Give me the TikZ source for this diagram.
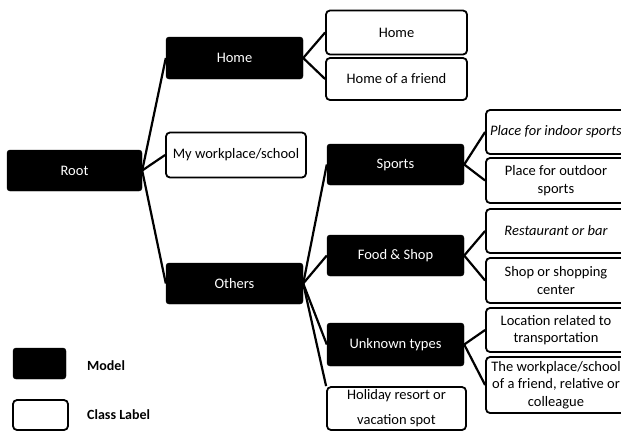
\documentclass[tikz,border=0pt]{standalone}
\usepackage{fontspec}
\setmainfont{Carlito}
\begin{document}
\begin{tikzpicture}[x=1pt,y=-1pt,
  every node/.style={font=\fontsize{14.5}{17.5}\selectfont, align=center, inner sep=0pt},
  model/.style={fill=black, draw=black, rounded corners=3pt, text=white},
  classlabel/.style={fill=white, draw=black, line width=1.8pt, rounded corners=4pt},
  conn/.style={line width=2.2pt, draw=black}]
\useasboundingbox (0,0) rectangle (621,432);
\clip (0,0) rectangle (621,432);
% level 0
\node[model, minimum width=135pt, minimum height=41pt] (root) at (74.5,170.5) {Root};
% level 1
\node[model, minimum width=137pt, minimum height=42pt] (home) at (234.5,58) {Home};
\node[classlabel, minimum width=140pt, minimum height=45pt] (work) at (236,155) {My workplace/school};
\node[model, minimum width=137pt, minimum height=41pt] (others) at (234.5,283.5) {Others};
% level 2 under home
\node[classlabel, minimum width=141pt, minimum height=44pt] (homel) at (396.5,32.5) {Home};
\node[classlabel, minimum width=141pt, minimum height=42pt] (friend) at (396.5,79) {Home of a friend};
% level 2 under others
\node[model, minimum width=137pt, minimum height=41pt] (sports) at (395.5,164.5) {Sports};
\node[model, minimum width=137pt, minimum height=41pt] (food) at (395.5,255.5) {Food \& Shop};
\node[model, minimum width=137pt, minimum height=43pt] (unknown) at (395.5,344.5) {Unknown types};
\node[classlabel, minimum width=139pt, minimum height=43pt, font=\fontsize{14.5}{25}\selectfont] (holiday) at (396.5,408.5) {Holiday resort or\\vacation spot};
% level 3
\node[classlabel, minimum width=140pt, minimum height=44pt] (indoor) at (556,132) {\itshape Place for indoor sports};
\node[classlabel, minimum width=140pt, minimum height=45pt] (outdoor) at (556,180.5) {Place for outdoor\\sports};
\node[classlabel, minimum width=140pt, minimum height=44pt] (rest) at (556,231) {\itshape Restaurant or bar};
\node[classlabel, minimum width=140pt, minimum height=45pt] (shop) at (556,280.5) {Shop or shopping\\center};
\node[classlabel, minimum width=140pt, minimum height=44pt] (loc) at (556,330) {Location related to\\transportation};
\node[classlabel, minimum width=140pt, minimum height=56pt] (wfriend) at (556,385) {The workplace/school\\of a friend, relative or\\colleague};
% connectors
\draw[conn] (root.east) -- (home.west);
\draw[conn] (root.east) -- (work.west);
\draw[conn] (root.east) -- (others.west);
\draw[conn] (home.east) -- (homel.west);
\draw[conn] (home.east) -- (friend.west);
\draw[conn] (others.east) -- (sports.west);
\draw[conn] (others.east) -- (food.west);
\draw[conn] (others.east) -- (unknown.west);
\draw[conn] (others.east) -- (holiday.north west);
\draw[conn] (sports.east) -- (indoor.west);
\draw[conn] (sports.east) -- (outdoor.west);
\draw[conn] (food.east) -- (rest.west);
\draw[conn] (food.east) -- (shop.west);
\draw[conn] (unknown.east) -- (loc.west);
\draw[conn] (unknown.east) -- (wfriend.west);
% legend
\node[model, minimum width=53pt, minimum height=31pt] (lmodel) at (39.5,363.5) {};
\node[classlabel, minimum width=55pt, minimum height=30pt] (llabel) at (40.5,415) {};
\node[anchor=west, font=\fontsize{14}{17}\selectfont\bfseries] (tmodel) at (87,366) {Model};
\node[anchor=west, font=\fontsize{14}{17}\selectfont\bfseries] (tlabel) at (87,415) {Class Label};
\end{tikzpicture}
\end{document}
